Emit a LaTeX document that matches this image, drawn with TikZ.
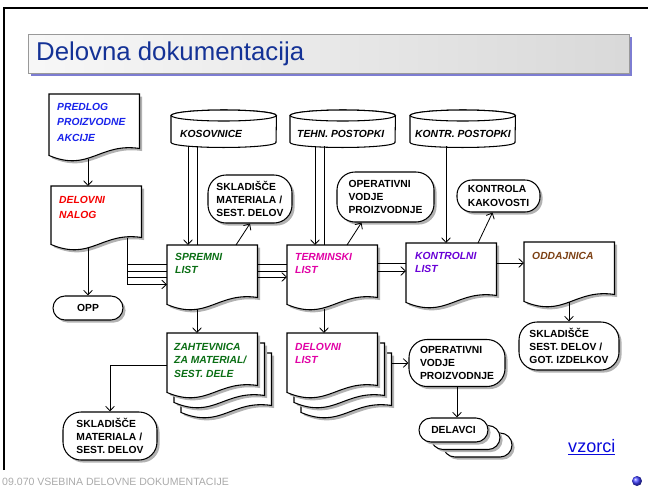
\documentclass[tikz,border=0pt]{standalone}
\usepackage{fontspec}
\setmainfont{Liberation Sans}
\usetikzlibrary{calc,scopes,arrows.meta,shadows}
\definecolor{titleBlue}{RGB}{20,50,150}
\definecolor{barShadow}{RGB}{125,125,210}
\definecolor{predlogBlue}{RGB}{25,35,235}
\definecolor{nalogRed}{RGB}{245,0,0}
\definecolor{listGreen}{RGB}{10,110,20}
\definecolor{listMagenta}{RGB}{225,0,165}
\definecolor{listPurple}{RGB}{105,0,215}
\definecolor{oddajBrown}{RGB}{125,65,20}
\definecolor{footGray}{RGB}{170,170,170}
\definecolor{linkBlue}{RGB}{10,10,220}

\tikzset{
  softshadow/.style={drop shadow={shadow xshift=2.2pt, shadow yshift=-2.2pt, fill=black!30, opacity=1}},
  docbox/.style={rectangle, anchor=north west, inner sep=0pt, minimum width=2.7cm, minimum height=1.56cm},
  drumbox/.style={rectangle, anchor=north west, inner sep=0pt, minimum width=3.15cm, minimum height=1.11cm},
  docedge/.style={draw, line width=0.9pt, fill=white, softshadow},
  drumedge/.style={draw, line width=0.9pt, fill=white},
  doctext/.style={anchor=north west, inner sep=0pt, align=left, font=\bfseries\itshape\fontsize{8.8}{11.5}\selectfont},
  doctext wide/.style={doctext, font=\bfseries\itshape\fontsize{8.8}{13.2}\selectfont},
  drumtext/.style={anchor=base west, inner sep=0pt, font=\bfseries\itshape\fontsize{8.8}{11}\selectfont},
  pill/.style={rectangle, rounded corners=0.54cm, draw, line width=0.9pt, fill=white, softshadow, align=left, inner sep=0pt, font=\bfseries\fontsize{8.8}{11.3}\selectfont},
  link/.style={line width=0.7pt},
  arr/.style={link, -{Straight Barb[length=4pt,width=7.5pt]}},
}

% document outline with wavy bottom, optional offset for stacked copies
\newcommand{\docoutline}[2][0,0]{%
  \draw[docedge] ($(#2.north west)+(#1)$) -- ($(#2.north east)+(#1)$) -- ($(#2.south east)+(#1)$)
    .. controls ($(#2.south east)+(#1)+(-40,-6)$) and ($(#2.south west)+(#1)+(40,24)$)
    .. ($(#2.south west)+(#1)+(0,7)$) -- cycle;}
% stored data (drum) outline
\newcommand{\drumoutline}[1]{%
  \draw[drumedge] ($(#1.north west)+(0,5.5)$) -- ($(#1.south west)+(0,-5)$)
    arc[start angle=180, end angle=0, x radius=52.5, y radius=5] -- ($(#1.north east)+(0,5.5)$)
    arc[start angle=0, end angle=-180, x radius=52.5, y radius=5.5] -- cycle;
  \draw[drumedge] ($(#1.north)+(0,5.5)$) ellipse[x radius=52.5, y radius=5.5];}

\begin{document}
\begin{tikzpicture}[x=0.03cm, y=-0.03cm]
  \useasboundingbox (0,0) rectangle (648,491);
  % slide frame and title bar
  \draw[line width=2pt] (4,470) -- (4,8) -- (648,8);
  \fill[barShadow] (31,37) rectangle (632,76);
  \draw[draw=black!40, line width=0.7pt, left color=black!3, right color=black!15] (28,34) rectangle (629,73);
  \node[anchor=west, inner sep=0pt, text=titleBlue, font=\fontsize{22}{26}\selectfont] (title) at (36,54) {Delovna dokumentacija};

  % stores
  {[every node/.style=drumbox]
  \node (KOS) at (171,110) {};
  \node (TEHN) at (290,110) {};
  \node (KONTR) at (410,110) {};
  }
  \drumoutline{KOS}
  \drumoutline{TEHN}
  \drumoutline{KONTR}
  \node[drumtext] (KOS-text) at ($(KOS.north west)+(9,27)$) {KOSOVNICE};
  \node[drumtext] (TEHN-text) at ($(TEHN.north west)+(7,27)$) {TEHN. POSTOPKI};
  \node[drumtext] (KONTR-text) at ($(KONTR.north west)+(5,27)$) {KONTR. POSTOPKI};

  % documents
  {[every node/.style=docbox]
  \node[minimum height=1.62cm] (PPA) at (49,94) {};
  \node[minimum height=1.53cm] (DN) at (51,186) {};
  \node (SL) at (167,245) {};
  \node (TL) at (287,245) {};
  \node (KL) at (406,243) {};
  \node (OD) at (524,242) {};
  \node (ZM) at (167,333) {};
  \node (DL) at (287,333) {};
  }
  \docoutline{PPA}
  \docoutline{DN}
  \docoutline{SL}
  \docoutline{TL}
  \docoutline{KL}
  \docoutline{OD}
  \docoutline[14,20]{ZM}
  \docoutline[7,10]{ZM}
  \docoutline{ZM}
  \docoutline[14,20]{DL}
  \docoutline[7,10]{DL}
  \docoutline{DL}
  \node[doctext wide, text=predlogBlue] (PPA-text) at ($(PPA.north west)+(8,9)$) {PREDLOG\\PROIZVODNE\\AKCIJE};
  \node[doctext wide, text=nalogRed] (DN-text) at ($(DN.north west)+(8,10)$) {DELOVNI\\NALOG};
  \node[doctext, text=listGreen] (SL-text) at ($(SL.north west)+(8,8)$) {SPREMNI\\LIST};
  \node[doctext, text=listMagenta] (TL-text) at ($(TL.north west)+(8,8)$) {TERMINSKI\\LIST};
  \node[doctext, text=listPurple] (KL-text) at ($(KL.north west)+(9,9)$) {KONTROLNI\\LIST};
  \node[doctext, text=oddajBrown] (OD-text) at ($(OD.north west)+(8,10)$) {ODDAJNICA};
  \node[doctext, text=listGreen] (ZM-text) at ($(ZM.north west)+(7,10)$) {ZAHTEVNICA\\ZA MATERIAL/\\SEST. DELE};
  \node[doctext, text=listMagenta] (DL-text) at ($(DL.north west)+(8,10)$) {DELOVNI\\LIST};

  % terminals
  {[every node/.style=pill]
  \node[minimum width=2.52cm, minimum height=1.44cm] (SMS1) at (250,199) {SKLADIŠČE\\MATERIALA /\\SEST. DELOV};
  \node[minimum width=2.91cm, minimum height=1.5cm] (OVP1) at (385.5,197) {OPERATIVNI\\VODJE\\PROIZVODNJE};
  \node[minimum width=2.49cm, minimum height=0.96cm, rounded corners=0.45cm] (KK) at (498.5,196) {KONTROLA\\KAKOVOSTI};
  \node[minimum width=2.1cm, minimum height=0.72cm, rounded corners=0.36cm] (OPP) at (88,308) {OPP};
  \node[minimum width=3cm, minimum height=1.44cm] (SSD) at (569,346) {SKLADIŠČE\\SEST. DELOV /\\GOT. IZDELKOV};
  \node[minimum width=2.82cm, minimum height=1.44cm] (SMS2) at (110,436) {SKLADIŠČE\\MATERIALA /\\SEST. DELOV};
  \node[minimum width=2.88cm, minimum height=1.41cm] (OVP2) at (457,363) {OPERATIVNI\\VODJE\\PROIZVODNJE};
  \node[minimum width=2.07cm, minimum height=0.72cm, rounded corners=0.36cm] (DEL-3) at (477.5,445) {};
  \node[minimum width=2.07cm, minimum height=0.72cm, rounded corners=0.36cm] (DEL-2) at (465.5,437.5) {};
  \node[minimum width=2.07cm, minimum height=0.72cm, rounded corners=0.36cm] (DEL) at (453.5,430) {DELAVCI};
  }

  % connectors
  \coordinate (DN-bus) at ($(DN.south west)+(76,47)$);
  \draw[arr] ($(PPA.south west)+(39,11)$) -- ($(DN.north west)+(37,0)$);
  \draw[arr] ($(DN.south west)+(37,10)$) -- (OPP);
  \draw[link] ($(DN.south west)+(76,1)$) -- (DN-bus);
  \foreach \dy in {-20,-13,-7}
    \draw[link] ($(DN-bus)+(0,\dy)$) -- ($(DN-bus)+(40,\dy)$);
  \draw[arr] (DN-bus) -- (DN-bus -| SL.west);
  \draw[arr] ($(KOS.south west)+(17,-1)$) -- ($(SL.north west)+(21,0)$);
  \draw[link] ($(KOS.south west)+(26,-1)$) -- ($(SL.north west)+(30,0)$);
  \draw[arr] ($(SL.north west)+(69,0)$) -- (SMS1.south);
  \foreach \dy in {19,26}
    \draw[link] ($(SL.north east)+(0,\dy)$) -- ($(TL.north west)+(0,\dy)$);
  \draw[arr] ($(SL.north east)+(0,32)$) -- ($(TL.north west)+(0,32)$);
  \draw[arr] ($(TEHN.south west)+(25,-1)$) -- ($(TL.north west)+(28,0)$);
  \draw[link] ($(TEHN.south west)+(34,-1)$) -- ($(TL.north west)+(37,0)$);
  \draw[arr] ($(TL.north west)+(60,0)$) -- ($(OVP1.south)+(-24,0)$);
  \draw[link] ($(TL.north east)+(0,18)$) -- ($(KL.north west)+(0,20)$);
  \draw[arr] ($(TL.north east)+(0,26)$) -- ($(KL.north west)+(0,28)$);
  \draw[arr] ($(KONTR.south west)+(36,-1)$) -- ($(KL.north west)+(40,0)$);
  \draw[arr] ($(KL.north west)+(72,0)$) -- ($(KK.south)+(-6,0)$);
  \draw[arr] ($(KL.north east)+(0,20)$) -- ($(OD.north west)+(0,21)$);
  \draw[arr] ($(OD.south west)+(45,8)$) -- (SSD);
  \draw[arr] ($(SL.south west)+(30,12)$) -- ($(ZM.north west)+(30,0)$);
  \draw[arr] ($(ZM.north west)+(0,32)$) -| (SMS2);
  \draw[arr] ($(TL.south west)+(37,12)$) -- ($(DL.north west)+(37,0)$);
  \draw[arr] ($(DL.north east)+(14,30)$) -- (OVP2);
  \draw[arr] (OVP2.south) -- (OVP2.south |- DEL.north);

  % footer
  \node[anchor=base west, inner sep=0pt, text=footGray, font=\fontsize{9}{10}\selectfont] (footer) at (2,485) {09.070 VSEBINA DELOVNE DOKUMENTACIJE};
  \node[anchor=base west, inner sep=0pt, text=linkBlue, font=\fontsize{15.4}{18}\selectfont] (vzorci) at (568,452) {\underline{vzorci}};
  \shade[ball color=blue!75!white] (637,481) circle[radius=5];
\end{tikzpicture}
\end{document}
